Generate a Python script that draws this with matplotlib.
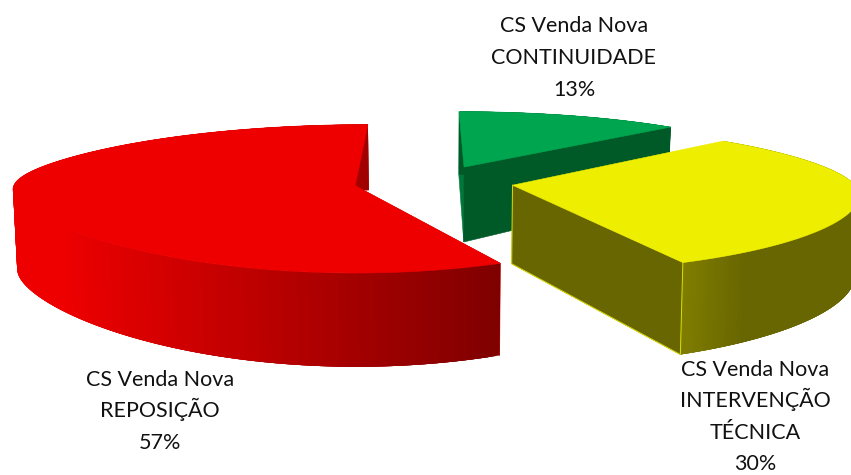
import numpy as np
import matplotlib
matplotlib.use("Agg")
import matplotlib.pyplot as plt
from matplotlib.collections import PolyCollection
from matplotlib.colors import to_rgb

categories = ["CS Venda Nova\nCONTINUIDADE", "CS Venda Nova\nINTERVENÇÃO\nTÉCNICA", "CS Venda Nova\nREPOSIÇÃO"]
values = [13, 30, 57]
top_colors = ["#00A64F", "#EEEE00", "#EE0000"]
face_colors = ["#005A28", "#686600", "#DC0000"]

EXPLODE = 0.235
X0, Y0 = 433.5, 182.0
B, H = 72.0, 78.0
K_FAR, K_NEAR_Y = 0.2, 0.16


def project(U, V, A, k_near_x, down=False):
    U, V = np.asarray(U, float), np.asarray(V, float)
    w = 0.5 * (1 + np.tanh(3 * V))
    dx = 1 + (k_near_x + (K_FAR - k_near_x) * w) * V
    dy = 1 + (K_NEAR_Y + (K_FAR - K_NEAR_Y) * w) * V
    X = X0 + A * U / dx
    Y = Y0 - B * V / dy
    if down:
        X = X0 + (X - X0) * 0.99
        Y = Y + H / dy
    return X, Y


def ramp(x, stops):
    xs = [s[0] for s in stops]
    cols = np.array([to_rgb(s[1]) for s in stops])
    return np.array([np.interp(x, xs, cols[:, i]) for i in range(3)]).T


def draw_slice(ax, start, end, top, face, stops, near_face, far_color, A, k_near_x):
    mid = np.radians((start + end) / 2)
    cu, cv = EXPLODE * np.sin(mid), EXPLODE * np.cos(mid)
    th = np.radians(np.linspace(start, end, 300))
    U, V = cu + np.sin(th), cv + np.cos(th)
    xt, yt = project(U, V, A, k_near_x)
    xb, yb = project(U, V, A, k_near_x, down=True)
    ax0, ay0 = project(cu, cv, A, k_near_x)
    bx0, by0 = project(cu, cv, A, k_near_x, down=True)

    def quad(i):
        return [(ax0, ay0), (xt[i], yt[i]), (xb[i], yb[i]), (bx0, by0)]

    if far_color:
        ax.add_patch(plt.Polygon(quad(0), fc=far_color, ec=far_color, lw=0.4, zorder=1))
    if near_face:
        ax.add_patch(plt.Polygon(quad(-1), fc=face, ec=face, lw=0.4, zorder=1))

    # overlapping strips painted in order, so no seams appear between them
    n = len(th)
    quads = [[(xt[i], yt[i]), (xt[min(i + 4, n - 1)], yt[min(i + 4, n - 1)]),
              (xb[min(i + 4, n - 1)], yb[min(i + 4, n - 1)]), (xb[i], yb[i])]
             for i in range(n - 1)]
    cols = ramp((xt[:-1] + xt[1:]) / 2, stops)
    ax.add_collection(PolyCollection(quads, facecolors=cols, edgecolors="none", linewidths=0, zorder=1))

    poly = np.column_stack([np.r_[ax0, xt], np.r_[ay0, yt]])
    ax.add_patch(plt.Polygon(poly, fc=top, ec=top, lw=0.4, zorder=1))
    return (ax0, ay0), (bx0, by0), (xt, yt), (xb, yb)


plt.rcParams["font.family"] = ["Lato", "DejaVu Sans"]
fig = plt.figure(figsize=(8.51, 4.75), dpi=100)
ax = fig.add_axes([0, 0, 1, 1])
ax.set_xlim(0, 851)
ax.set_ylim(475, 0)
ax.axis("off")

angles = np.r_[0, np.cumsum(values)] / np.sum(values) * 360

# green
draw_slice(ax, angles[0], angles[1], top_colors[0], face_colors[0],
           [(0, "#005A28"), (900, "#005A28")], True, "#00773A", 340.0, 0.10)

# red: near cut hidden, far cut shows as a sliver
draw_slice(ax, angles[2], angles[3], top_colors[2], face_colors[2],
           [(60, "#EE0000"), (497, "#800000")], False, face_colors[2], 340.0, 0.0)

# yellow
a_y, b_y, t_y, b2_y = draw_slice(ax, angles[1], angles[2], top_colors[1], face_colors[1],
                                 [(683, "#807E00"), (745, "#686600"), (860, "#686600")],
                                 True, None, 340.0, 0.11)
ax.plot([a_y[0], b_y[0], b2_y[0][-1], t_y[0][-1]], [a_y[1], b_y[1], b2_y[1][-1], t_y[1][-1]],
        color="#DDDD00", lw=0.7, zorder=2, solid_joinstyle="round")

label_pos = [(574, 32.5), (755, 375.5), (160, 385.5)]
LINE_STEP = 31.6
for cat, val, (lx, ly) in zip(categories, values, label_pos):
    for i, line in enumerate(f"{cat}\n{val}%".split("\n")):
        ax.text(lx, ly + i * LINE_STEP, line, ha="center", va="baseline", fontsize=15.5,
                color="#111111", zorder=5)

fig.savefig("out.png", dpi=100)
